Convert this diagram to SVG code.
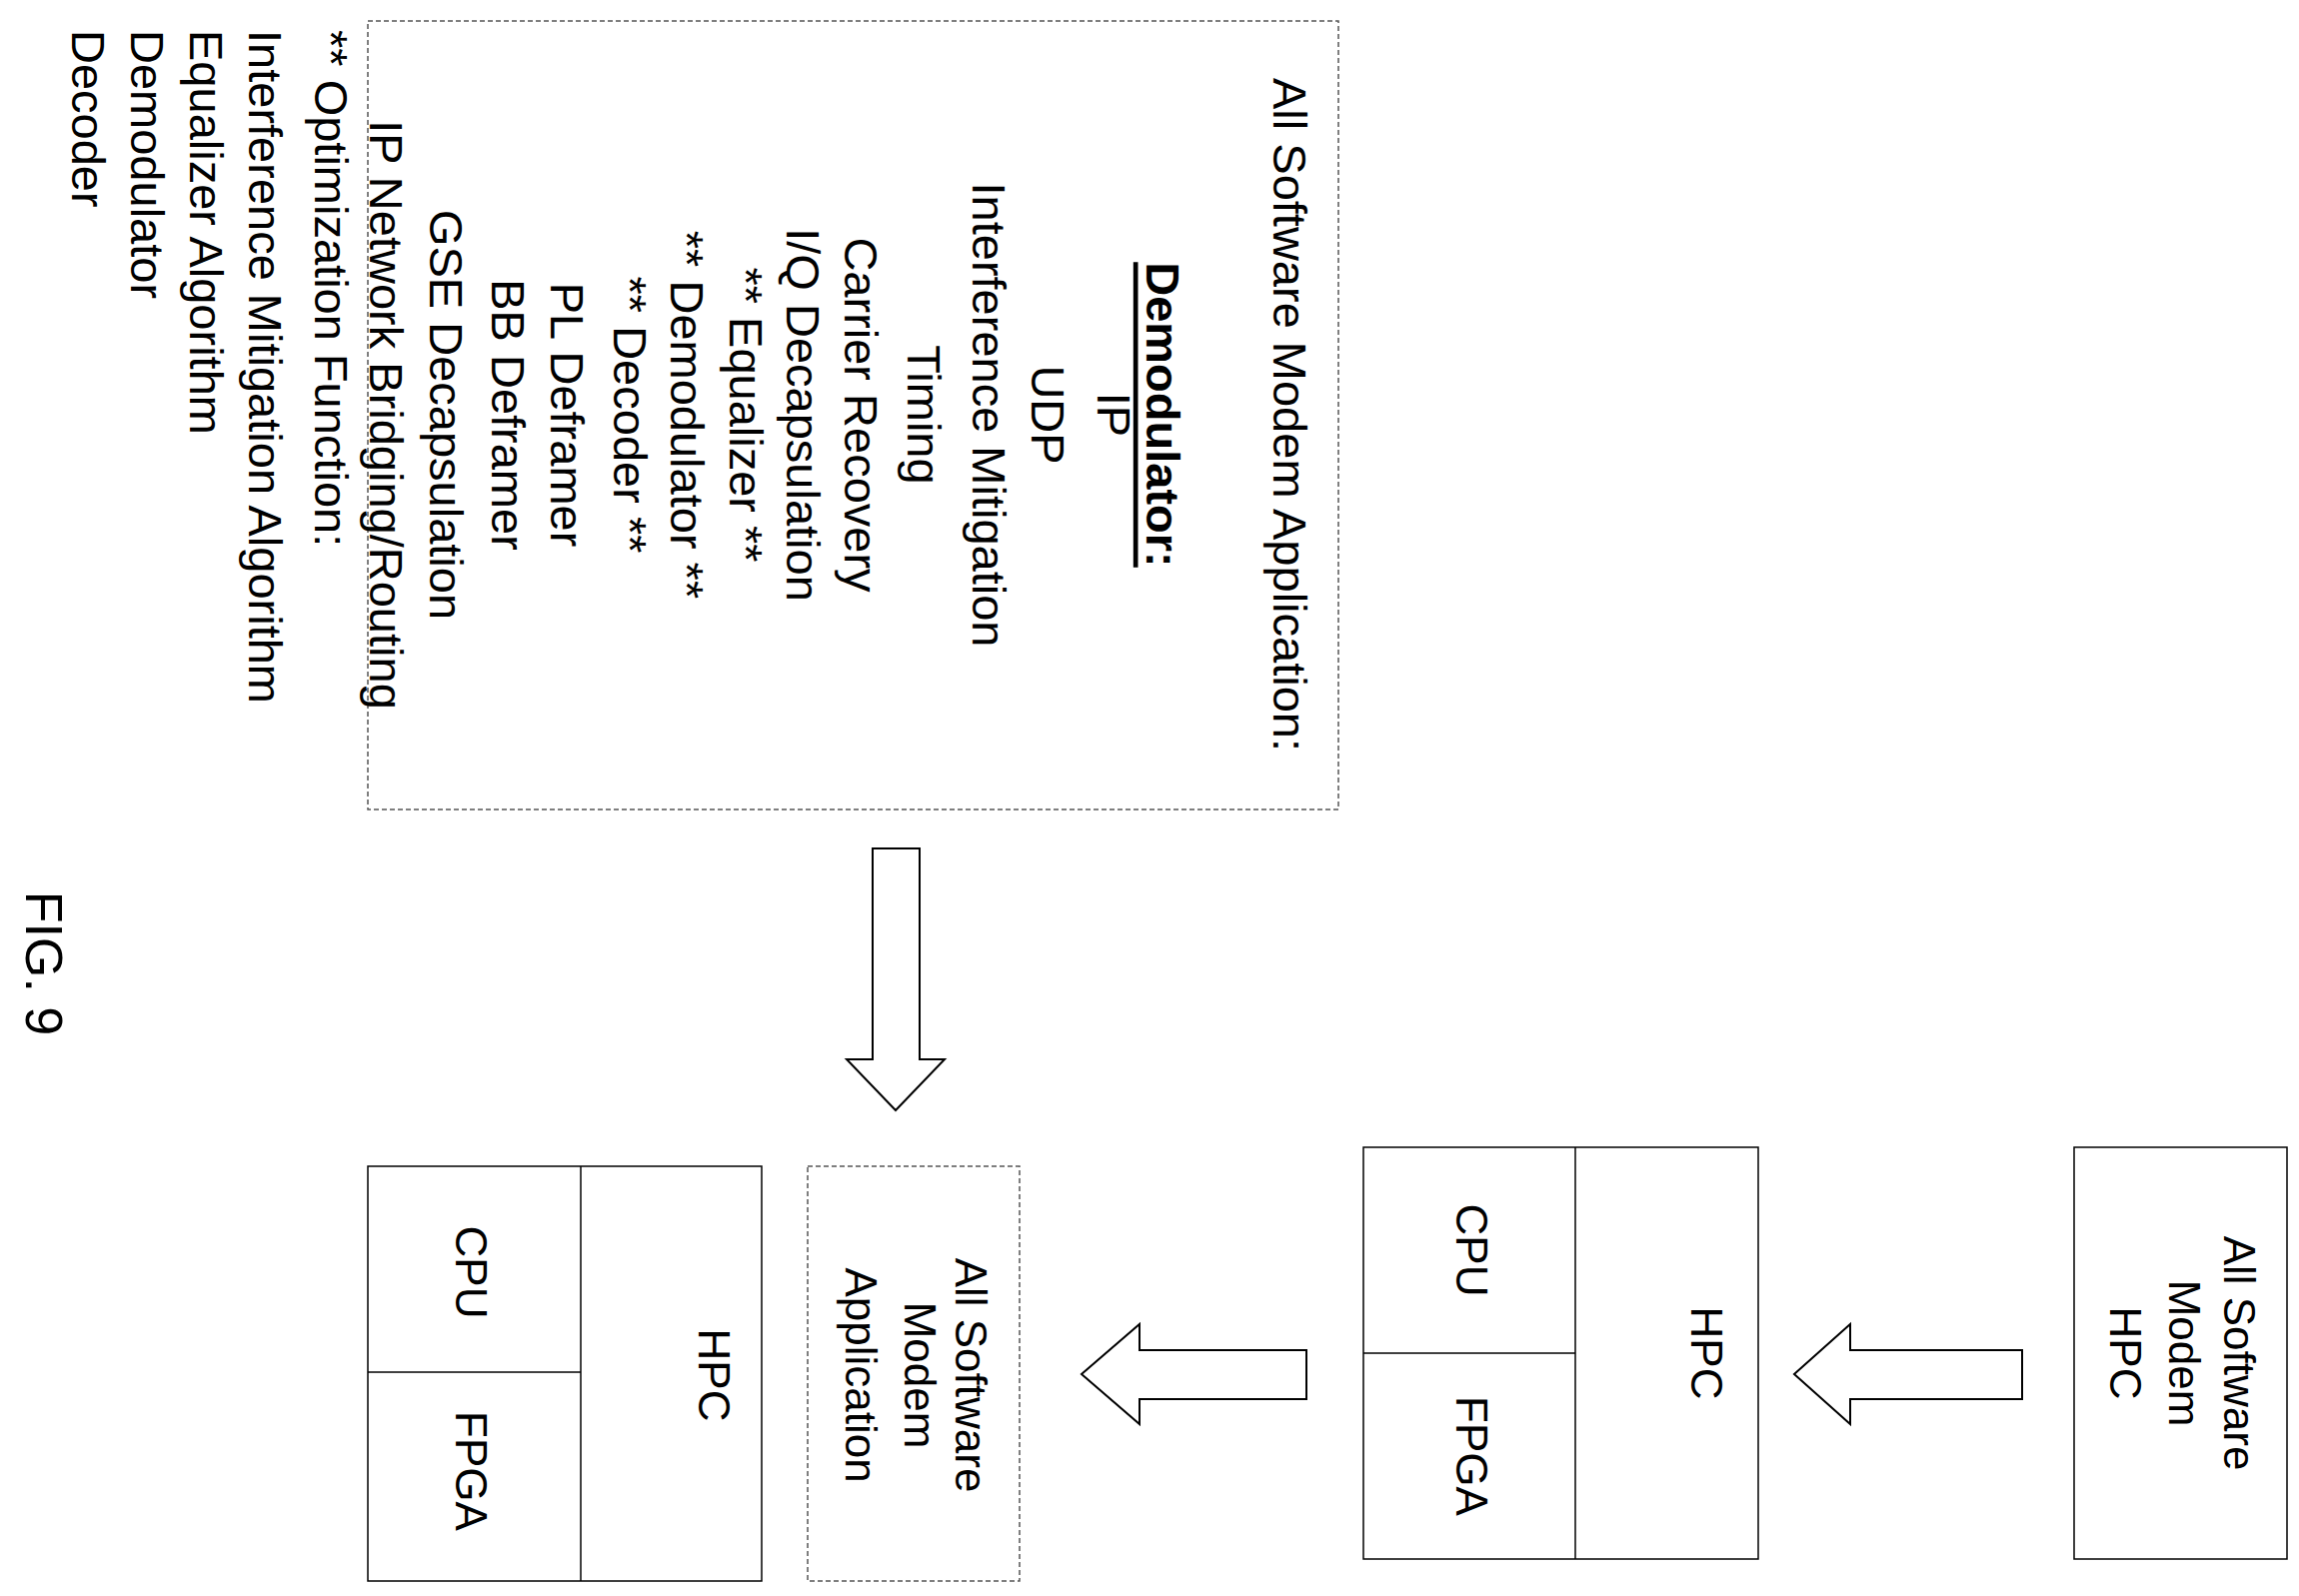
<svg xmlns="http://www.w3.org/2000/svg" width="2300" height="1597" viewBox="0 0 2300 1597">
<style>
text{font-family:"Liberation Sans",Arial,sans-serif;font-size:47px;fill:#000;dominant-baseline:central}
.c{text-anchor:middle}
.s{text-anchor:start}
.b{font-size:44px;text-anchor:middle}
.box{fill:#fff;stroke:#000;stroke-width:1.5}
.dash{fill:none;stroke:#555;stroke-width:1.5;stroke-dasharray:5,3}
.ln{stroke:#000;stroke-width:1.5}
.arr{fill:#fff;stroke:#000;stroke-width:2}
</style>
<rect width="2300" height="1597" fill="#fff"/>
<g id="app-box">
<rect class="dash" x="368" y="21" width="971" height="789"/>
<text class="c" transform="translate(1290,415) rotate(90)">All Software Modem Application:</text>
<text class="c" transform="translate(1163,415) rotate(90)" font-weight="bold" text-decoration="underline">Demodulator:</text>
<text class="c" transform="translate(1114,415) rotate(90)">IP</text>
<text class="c" transform="translate(1048,415) rotate(90)">UDP</text>
<text class="c" transform="translate(989,415) rotate(90)">Interference Mitigation</text>
<text class="c" transform="translate(924,415) rotate(90)">Timing</text>
<text class="c" transform="translate(861,415) rotate(90)">Carrier Recovery</text>
<text class="c" transform="translate(803,415) rotate(90)">I/Q Decapsulation</text>
<text class="c" transform="translate(746,415) rotate(90)">** Equalizer **</text>
<text class="c" transform="translate(687,415) rotate(90)">** Demodulator **</text>
<text class="c" transform="translate(630,415) rotate(90)">** Decoder **</text>
<text class="c" transform="translate(567,415) rotate(90)">PL Deframer</text>
<text class="c" transform="translate(508,415) rotate(90)">BB Deframer</text>
<text class="c" transform="translate(446,415) rotate(90)">GSE Decapsulation</text>
<text class="c" transform="translate(386,415) rotate(90)">IP Network Bridging/Routing</text>
<text class="s" transform="translate(331,30) rotate(90)">** Optimization Function:</text>
<text class="s" transform="translate(265,30) rotate(90)">Interference Mitigation Algorithm</text>
<text class="s" transform="translate(206,30) rotate(90)">Equalizer Algorithm</text>
<text class="s" transform="translate(147,30) rotate(90)">Demodulator</text>
<text class="s" transform="translate(88,30) rotate(90)">Decoder</text>
</g>
<g id="connectors">
<polygon class="arr" points="873,849 920,849 920,1060 945,1060 896,1111 847,1060 873,1060"/>
<polygon class="arr" points="1307,1351 1307,1400 1140,1400 1140,1425 1082,1375 1140,1325 1140,1351"/>
<polygon class="arr" points="2023,1351 2023,1400 1851,1400 1851,1425 1795,1375 1851,1325 1851,1351"/>
</g>
<g id="hpc-left">
<rect class="box" x="368" y="1167" width="394" height="415"/>
<line class="ln" x1="581" y1="1167" x2="581" y2="1582"/>
<line class="ln" x1="368" y1="1373" x2="581" y2="1373"/>
<text class="b" transform="translate(714,1376) rotate(90)">HPC</text>
<text class="b" transform="translate(471,1273) rotate(90)">CPU</text>
<text class="b" transform="translate(471,1472) rotate(90)">FPGA</text>
</g>
<g id="app-small">
<rect class="dash" x="808" y="1167" width="212" height="415"/>
<text class="b" transform="translate(971,1376) rotate(90)">All Software</text>
<text class="b" transform="translate(920,1376) rotate(90)">Modem</text>
<text class="b" transform="translate(861,1376) rotate(90)">Application</text>
</g>
<g id="hpc-mid">
<rect class="box" x="1364" y="1148" width="395" height="412"/>
<line class="ln" x1="1576" y1="1148" x2="1576" y2="1560"/>
<line class="ln" x1="1364" y1="1354" x2="1576" y2="1354"/>
<text class="b" transform="translate(1707,1354) rotate(90)">HPC</text>
<text class="b" transform="translate(1472,1251) rotate(90)">CPU</text>
<text class="b" transform="translate(1472,1457) rotate(90)">FPGA</text>
</g>
<g id="hpc-right">
<rect class="box" x="2075" y="1148" width="213" height="412"/>
<text class="b" transform="translate(2240,1354) rotate(90)">All Software</text>
<text class="b" transform="translate(2185,1354) rotate(90)">Modem</text>
<text class="b" transform="translate(2126,1354) rotate(90)">HPC</text>
</g>
<g id="fig-label">
<text class="c" style="font-size:52px" transform="translate(44,964) rotate(90)">FIG. 9</text>
</g>
</svg>
